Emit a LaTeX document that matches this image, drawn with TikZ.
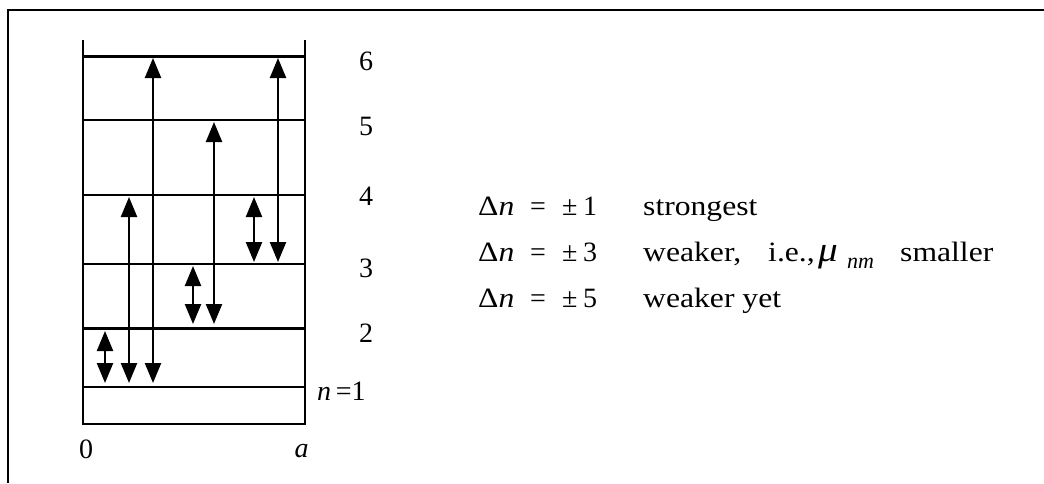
\documentclass[tikz,border=0pt]{standalone}
\usepackage{fontspec}
\setmainfont{Liberation Serif}
\usetikzlibrary{arrows.meta}
\newcommand{\wide}[1]{\scalebox{1.13}[1]{#1}}
\begin{document}
\begin{tikzpicture}[x=1pt,y=-1pt,
  frame/.style={line width=2.6pt,line join=miter},
  wall/.style={line width=2.8pt},
  level/.style={line width=2.6pt},
  trans/.style={line width=2.3pt,{Triangle[width=16pt,length=20pt]}-{Triangle[width=16pt,length=20pt]}},
  lab/.style={font=\fontsize{28}{32}\selectfont, inner sep=0pt, anchor=base},
  txt/.style={font=\fontsize{28}{32}\selectfont, inner sep=0pt, anchor=base west},
  sub/.style={font=\fontsize{22}{26}\selectfont\itshape, inner sep=0pt, anchor=base west}]
\useasboundingbox (0,0) rectangle (1044,483);
% outer frame (top and left edges)
\draw[frame] (8,483) -- (8,10) -- (1044,10);
% well walls
\coordinate (wlt) at (83,40);
\coordinate (wlb) at (83,424);
\coordinate (wrt) at (305,40);
\coordinate (wrb) at (305,424);
\draw[wall] (wlt) -- (wlb) -- (wrb) -- (wrt);
% levels
\foreach \n/\y in {1/387,2/328.5,3/264,4/195,5/120,6/56.5}{
  \coordinate (L\n l) at (83,\y);
  \coordinate (L\n r) at (305,\y);
  \draw[level] (L\n l) -- (L\n r);
}
% transitions
\coordinate (A1) at (105,383); \coordinate (A2) at (105,331);
\coordinate (B1) at (129,383); \coordinate (B2) at (129,197);
\coordinate (C1) at (153,383); \coordinate (C2) at (153,58);
\coordinate (D1) at (193,324); \coordinate (D2) at (193,266);
\coordinate (E1) at (214,324); \coordinate (E2) at (214,122);
\coordinate (F1) at (254,262); \coordinate (F2) at (254,197);
\coordinate (G1) at (278,262); \coordinate (G2) at (278,58);
\draw[trans] (A1) -- (A2);
\draw[trans] (B1) -- (B2);
\draw[trans] (C1) -- (C2);
\draw[trans] (D1) -- (D2);
\draw[trans] (E1) -- (E2);
\draw[trans] (F1) -- (F2);
\draw[trans] (G1) -- (G2);
% level labels
\node[lab] (l6) at (366,70) {6};
\node[lab] (l5) at (366,135) {5};
\node[lab] (l4) at (366,205) {4};
\node[lab] (l3) at (366,277) {3};
\node[lab] (l2) at (366,342) {2};
\node[txt] (l1) at (317,400) {\textit{n}\,=1};
\node[lab] (x0) at (86,458) {0};
\node[lab] (xa) at (301.5,457) {\textit{a}};
% selection rules
\node[txt] (d1) at (478,215) {\wide{Δ\textit{n}}};
\node[txt] (e1) at (530,215) {=};
\node[txt] (p1) at (562,215) {±};
\node[txt] (v1) at (583,215) {1};
\node[txt] (w1) at (643,215) {\wide{strongest}};
\node[txt] (d2) at (478,261) {\wide{Δ\textit{n}}};
\node[txt] (e2) at (530,261) {=};
\node[txt] (p2) at (562,261) {±};
\node[txt] (v2) at (583,261) {3};
\node[txt] (w2) at (643,261) {\wide{weaker,}};
\node[txt] (w2b) at (768,261) {\wide{i.e.,}};
\node[txt] (mu) at (818,261) {\scalebox{1.4}[1.25]{\textit{μ}}};
\node[sub] (nm) at (847,268) {nm};
\node[txt] (w2c) at (900,261) {\wide{smaller}};
\node[txt] (d3) at (478,307) {\wide{Δ\textit{n}}};
\node[txt] (e3) at (530,307) {=};
\node[txt] (p3) at (562,307) {±};
\node[txt] (v3) at (583,307) {5};
\node[txt] (w3) at (643,307) {\wide{weaker yet}};
\end{tikzpicture}
\end{document}
